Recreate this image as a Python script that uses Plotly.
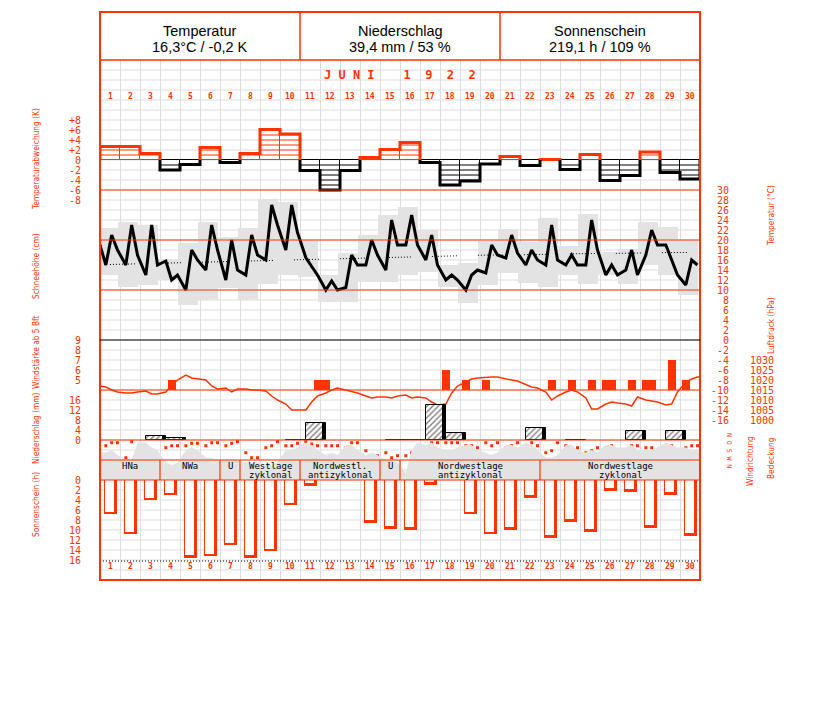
import plotly.graph_objects as go

RED = "#FF3300"
BLACK = "#000000"
GRAY = "#E3E3E3"
GRID = "#DDDDDD"
MONO = "DejaVu Sans Mono"
NARROW = "Liberation Sans Narrow, DejaVu Sans Condensed, Arial Narrow, sans-serif"
SANS = "Liberation Sans, Arial, sans-serif"

# ---------------- data ----------------
days = list(range(1, 31))
day_labels = [str(d) for d in days]

header_titles = ["Temperatur", "Niederschlag", "Sonnenschein"]
header_values = ["16,3°C / -0,2 K", "39,4 mm / 53 %", "219,1 h / 109 %"]
month_title = "J U N I    1  9  2  2"

# daily temperature deviation (K)
temp_dev = [2.7, 2.7, 1.3, -2.0, -0.9, 2.5, -0.5, 1.3, 6.1, 5.2,
            -2.1, -6.0, -2.1, 0.5, 2.1, 3.5, -0.5, -5.0, -4.2, -0.8,
            0.7, -1.1, 0.1, -1.9, 1.1, -4.1, -3.1, 1.6, -2.5, -3.8]

# temperature at 7h, 14h, 21h (°C)
temp_prev_evening = 20.7
temp_7h = [15, 15, 13, 15.8, 10, 14, 12, 13, 16, 18, 16.5, 10, 10.5, 15, 14,
           19, 16, 12, 10, 13.4, 16.4, 15, 15, 15, 15, 13, 14, 17, 19, 11]
temp_14h = [21, 23, 23, 12, 18, 23, 20, 21, 27, 27, 14.7, 11.8, 17, 20, 24,
            25, 21, 13, 13, 19, 21, 18, 23, 17, 24, 15, 18, 22, 16, 16]
temp_21h = [18, 17, 15, 13, 16, 18, 14, 17, 23, 21.5, 13, 10, 15, 17, 19,
            19, 15, 12, 14, 17, 17.4, 16, 16, 15, 18, 13, 13, 19, 13, 15]
# daily max / min (°C)
temp_max = [22.4, 23.7, 23, 16.2, 19.4, 23.6, 20.6, 22.4, 28.2, 27.6,
            20, 13, 17.4, 21, 25, 26.7, 22, 15, 15.4, 19.8,
            22.2, 19.6, 24.4, 18.8, 25.2, 17.6, 18.2, 23.6, 22.6, 20]
temp_min = [13, 10.7, 11, 12, 7, 8, 10.4, 8, 11.2, 13,
            12.6, 7.6, 7.6, 11.6, 11.6, 13, 13.6, 10.6, 7.4, 11,
            13.4, 11.4, 10.6, 13, 11.2, 13, 11.2, 15, 13, 9]
# long-term mean temperature (°C)
temp_normal = [15.1, 15.2, 15.4, 15.5, 15.6, 15.7, 15.8, 15.9, 16.0, 16.1,
               16.2, 16.3, 16.4, 16.5, 16.6, 16.7, 16.8, 16.8, 16.9, 17.0,
               17.0, 17.1, 17.2, 17.2, 17.3, 17.3, 17.4, 17.4, 17.5, 17.5]

# air pressure at 7h, 14h, 21h (hPa)
pressure_start = 1017
pressure_end = 1021.5
pressure_7h = [1016.5, 1013.5, 1014.5, 1014, 1022.5, 1020, 1016, 1015.5, 1014.5, 1008,
               1005, 1013.5, 1015, 1012, 1011.5, 1012.5, 1011, 1008, 1019, 1021.5,
               1020.5, 1017.5, 1014, 1014, 1011, 1008, 1008, 1010, 1007.5, 1019]
pressure_14h = [1015, 1013.5, 1013, 1017.5, 1021, 1017, 1014, 1015, 1012, 1005,
                1009, 1015, 1014, 1011, 1011, 1011, 1009, 1013.5, 1020.5, 1021.5,
                1020, 1016.5, 1010, 1015, 1005.5, 1009, 1007, 1009.5, 1008, 1020.5]
pressure_21h = [1014, 1014, 1013, 1020, 1020.5, 1015.5, 1015.5, 1015, 1010, 1005,
                1012, 1016, 1013.5, 1011.5, 1012, 1011.5, 1007.5, 1017, 1021, 1021.5,
                1019.5, 1016, 1012, 1014, 1005.5, 1008.5, 1011.5, 1009, 1014, 1021.5]

# wind force >= 5 Bft (observation day, hour, force)
wind_day = [4, 11, 12, 18, 19, 20, 23, 24, 25, 26, 26, 27, 28, 28, 29, 30]
wind_hour = [14, 21, 7, 7, 7, 7, 14, 14, 14, 7, 14, 14, 7, 14, 14, 7]
wind_bft = [5, 5, 5, 6, 5, 5, 5, 5, 5, 5, 5, 5, 5, 5, 7, 5]

# precipitation (mm), measured 7h to 7h
precip_mm = [0, 0, 1.8, 0.8, 0, 0, 0, 0, 0, 0.2, 6.9, 0, 0, 0, 0.2,
             0.2, 14.0, 2.9, 0, 0, 0, 4.9, 0, 0.2, 0, 0, 3.7, 0, 3.7, 0]

# wind direction (degrees) at 7h, 14h, 21h
wind_dir_7h = [103, 319, 319, 139, 103, 103, 103, 229, 139, 103,
               31, 103, 139, 193, 229, 283, 229, 49, 103, 49,
               139, 103, 229, 103, 229, 139, 193, 139, 193, 139]
wind_dir_14h = [49, 31, 283, 103, 59, 49, 59, 319, 103, 103,
                72, 103, 49, 283, 319, 229, 49, 49, 103, 103,
                103, 49, 193, 139, 193, 103, 103, 139, 103, 103]
wind_dir_21h = [49, 319, 283, 103, 59, 49, 31, 319, 31, 59,
                103, 103, 49, 283, 283, 319, 49, 49, 139, 49,
                49, 103, 49, 139, 139, 193, 103, 193, 193, 103]

# cloud cover (octas) at 7h, 14h, 21h
cloud_start = 5.5
cloud_end = 6
cloud_7h = [5.5, 4, 7.5, 3.5, 6, 4.5, 4, 3.5, 3, 6, 7.5, 5, 7, 5, 4,
            1.5, 7, 6, 7, 5.5, 7, 7.5, 4.5, 7, 5.5, 7, 6.5, 6, 7.5, 6.5]
cloud_14h = [6, 4, 6.5, 3, 6.5, 4.5, 4, 3.5, 3, 6, 7, 5.5, 7, 5.5, 4,
             6, 7.5, 6, 7, 5, 7, 7, 4.5, 7, 6, 7, 7, 6, 7, 6]
cloud_21h = [5, 7.5, 6, 3.5, 6, 4, 4, 3.5, 3.5, 6.5, 6, 5, 6, 5, 3.5,
             7.5, 6.5, 6.5, 6, 5.5, 6.5, 6, 5, 6, 5.5, 6.5, 6, 6.5, 6.5, 6]

# Großwetterlage
wl_line1 = ["HNa", "NWa", "U", "Westlage", "Nordwestl.", "U", "Nordwestlage", "Nordwestlage"]
wl_line2 = ["", "", "", "zyklonal", "antizyklonal", "", "antizyklonal", "zyklonal"]
wl_start = [1, 4, 7, 8, 11, 15, 16, 23]
wl_end = [3, 6, 7, 10, 14, 15, 22, 30]

# sunshine duration (h)
sun_h = [6.8, 10.8, 4.0, 3.0, 15.5, 15.2, 13.0, 15.5, 14.2, 5.0,
         1.1, 0, 0, 8.5, 9.7, 9.9, 0.9, 0, 6.8, 10.8,
         9.9, 3.5, 11.5, 8.3, 10.3, 2.1, 2.3, 9.5, 2.9, 11.1]
sun_possible = 16.2

# axis tick values
dev_ticks = [-8, -6, -4, -2, 0, 2, 4, 6, 8]
snow_ticks = [0, 2, 4, 6, 8, 10]
temp_ticks = list(range(30, -17, -2))
pres_ticks = [1030, 1025, 1020, 1015, 1010, 1005, 1000]
wind_ticks = [5, 6, 7, 8, 9]
precip_ticks = [0, 4, 8, 12, 16]
sun_ticks = list(range(0, 17, 2))

# ---------------- geometry helpers ----------------
OBS_HOURS = [7, 14, 21]


def obs_x(day, hour):
    return day - 1 + hour / 24.0


obs_t = [obs_x(d, h) for d in days for h in OBS_HOURS]


def trio(a, b, c):
    return [v for t in zip(a, b, c) for v in t]


PX_TOP, PX_BOT = 60, 580
PLOT_TOP, PLOT_H = 12, 568
DOMAIN = [0, (PX_BOT - PX_TOP) / PLOT_H]
GRID_ROWS = (PX_BOT - PX_TOP) // 10


def rng(a, b):
    # pixel y = a - b * value
    return [(a - PX_BOT) / b, (a - PX_TOP) / b]


def py(ypx):
    return (PX_BOT - ypx) / PLOT_H


def px(xpx):
    return (xpx - 100) / 600.0


fig = go.Figure()

# cloud cover (gray area)
fig.add_trace(go.Scatter(
    x=[0] + obs_t + [30], y=[cloud_start] + trio(cloud_7h, cloud_14h, cloud_21h) + [cloud_end],
    yaxis="y8", mode="lines", line=dict(width=0, color=GRAY),
    fill="tozeroy", fillcolor=GRAY, hoverinfo="skip"))

# temperature range boxes (21h to 21h)
fig.add_trace(go.Bar(
    x=[d - 0.625 for d in days], y=[mx - mn for mx, mn in zip(temp_max, temp_min)],
    base=temp_min, width=1.0, yaxis="y3",
    marker=dict(color=GRAY, line=dict(width=0)), hoverinfo="skip"))

# temperature deviation bars
fig.add_trace(go.Bar(
    x=[d - 0.5 for d in days], y=temp_dev, width=1.0, yaxis="y2",
    marker=dict(color="white",
                line=dict(color=[RED if v > 0 else BLACK for v in temp_dev], width=1)),
    hoverinfo="skip"))

# hatch lines inside deviation bars (every 1 K)
for sign, col in [(1, RED), (-1, BLACK)]:
    hx, hy = [], []
    for d, v in zip(days, temp_dev):
        if v * sign <= 0:
            continue
        k = 1
        while k < abs(v):
            hx += [d - 1, d, None]
            hy += [sign * k, sign * k, None]
            k += 1
    fig.add_trace(go.Scatter(x=hx, y=hy, yaxis="y2", mode="lines",
                             line=dict(color=col, width=1), hoverinfo="skip"))

# thick step outline of deviation, per run of same sign
for sign, col in [(1, RED), (-1, BLACK)]:
    sx, sy = [], []
    i = 0
    n = len(temp_dev)
    while i < n:
        if (temp_dev[i] > 0) == (sign > 0):
            j = i
            sx += [i, i]
            sy += [0, temp_dev[i]]
            while j < n and (temp_dev[j] > 0) == (sign > 0):
                sx += [j, j + 1]
                sy += [temp_dev[j], temp_dev[j]]
                j += 1
            sx += [j, None]
            sy += [0, None]
            i = j
        else:
            i += 1
    fig.add_trace(go.Scatter(x=sx, y=sy, yaxis="y2", mode="lines",
                             line=dict(color=col, width=3), hoverinfo="skip"))

# long-term mean (dotted)
dash_pat = ",".join(["1px,2px"] * 8 + ["1px,21px"])
fig.add_trace(go.Scatter(
    x=[d - 0.5 for d in days], y=temp_normal, yaxis="y3", mode="lines",
    line=dict(color=BLACK, width=1, dash=dash_pat), hoverinfo="skip"))

# temperature line
fig.add_trace(go.Scatter(
    x=[obs_x(0, 21)] + obs_t, y=[temp_prev_evening] + trio(temp_7h, temp_14h, temp_21h),
    yaxis="y3", mode="lines", line=dict(color=BLACK, width=3), hoverinfo="skip"))

# wind force bars
fig.add_trace(go.Bar(
    x=[obs_x(d, h) for d, h in zip(wind_day, wind_hour)], y=[b - 4 for b in wind_bft],
    base=4, width=0.4, yaxis="y5", marker=dict(color=RED, line=dict(width=0)),
    hoverinfo="skip"))

# pressure line
fig.add_trace(go.Scatter(
    x=[0] + obs_t + [30],
    y=[pressure_start] + trio(pressure_7h, pressure_14h, pressure_21h) + [pressure_end],
    yaxis="y4", mode="lines", line=dict(color=RED, width=1.5), hoverinfo="skip"))

# precipitation bars (shadow + hatched)
p_days = [d for d, p in zip(days, precip_mm) if p > 0]
p_vals = [p for p in precip_mm if p > 0]
p_start = [d - 1 + 7 / 24.0 for d in p_days]
fig.add_trace(go.Bar(
    x=[s + 0.56 for s in p_start], y=p_vals, width=0.88, yaxis="y6",
    marker=dict(color=BLACK, line=dict(color=BLACK, width=1)), hoverinfo="skip"))
fig.add_trace(go.Bar(
    x=[s + 0.44 for s in p_start], y=p_vals, width=0.88, yaxis="y6",
    marker=dict(color="white",
                pattern=dict(shape="/", fgcolor=BLACK, bgcolor="white", size=4, solidity=0.35),
                line=dict(color=BLACK, width=1)), hoverinfo="skip"))

# wind direction dots
fig.add_trace(go.Scatter(
    x=obs_t, y=trio(wind_dir_7h, wind_dir_14h, wind_dir_21h), yaxis="y7", mode="markers",
    marker=dict(symbol="square", size=3, color=RED, line=dict(width=0)), hoverinfo="skip"))

# sunshine bars (outer red, inner white)
s_days = [d for d, h in zip(days, sun_h) if h > 0]
s_vals = [h for h in sun_h if h > 0]
fig.add_trace(go.Bar(
    x=[d - 1 + 0.525 for d in s_days], y=s_vals, width=0.65, yaxis="y9",
    marker=dict(color=RED, line=dict(width=0)), hoverinfo="skip"))
fig.add_trace(go.Bar(
    x=[d - 1 + 0.485 for d in s_days], y=[max(h - 0.5, 0) for h in s_vals], width=0.47,
    yaxis="y9", marker=dict(color="white", line=dict(width=0)), hoverinfo="skip"))

# possible sunshine (dotted)
fig.add_trace(go.Scatter(
    x=[0, 30], y=[sun_possible, sun_possible], yaxis="y9", mode="lines",
    line=dict(color=BLACK, width=1, dash="1px,2px"), hoverinfo="skip"))

# ---------------- axes ----------------
tickfont = dict(family=MONO, size=10, color=RED)


def left_axis(r, vals, text):
    return dict(overlaying="y", anchor="x", side="left", domain=DOMAIN, range=r,
                showgrid=False, zeroline=False, showline=False, ticks="outside",
                ticklen=16, tickcolor="rgba(0,0,0,0)", tickvals=vals, ticktext=text,
                tickfont=tickfont, fixedrange=True, automargin=False)


def hidden_axis(r):
    return dict(overlaying="y", anchor="x", domain=DOMAIN, range=r, showgrid=False,
                zeroline=False, showline=False, showticklabels=False, ticks="",
                fixedrange=True)


# the page body adds an 8 px offset; compensate so the plot area lands at x 100..700, y 12..580
OFF = 8
layout = dict(
    width=827 - 2 * OFF, height=702 - 2 * OFF,
    margin=dict(l=100 - OFF, r=827 - 2 * OFF - (100 - OFF) - 600, t=12 - OFF,
                b=702 - 2 * OFF - (12 - OFF) - PLOT_H, pad=0),
    paper_bgcolor="white", plot_bgcolor="rgba(0,0,0,0)",
    showlegend=False, barmode="overlay", bargap=0,
    xaxis=dict(range=[0, 30], domain=[0, 1], anchor="y", showgrid=True, gridcolor=GRID,
               gridwidth=1, dtick=1, tick0=0, showticklabels=False, ticks="",
               zeroline=False, showline=False, fixedrange=True),
    yaxis=dict(domain=DOMAIN, range=[0, GRID_ROWS], showgrid=False, showticklabels=False,
               ticks="", zeroline=False, showline=False, fixedrange=True),
    yaxis2=left_axis(rng(160, 5), dev_ticks,
                     [("+" if v > 0 else "") + str(v) for v in dev_ticks]),
    yaxis3=hidden_axis(rng(340, 5)),
    yaxis4=hidden_axis(rng(2420, 2)),
    yaxis5=left_axis(rng(430, 10), wind_ticks, [str(v) for v in wind_ticks]),
    yaxis6=left_axis(rng(440, 2.5), precip_ticks, [str(v) for v in precip_ticks]),
    yaxis7=hidden_axis(rng(440, -1 / 18.0)),
    yaxis8=hidden_axis(rng(480, 5)),
    yaxis9=left_axis(rng(480, -5), sun_ticks, [str(v) for v in sun_ticks]),
    yaxis10=left_axis(rng(290, 5), snow_ticks, [str(v) for v in snow_ticks]),
)
fig.update_layout(**layout)

# ---------------- shapes ----------------
shapes = []
# horizontal background grid (every 10 px)
for k in range(GRID_ROWS + 1):
    shapes.append(dict(type="line", xref="paper", yref="y", x0=0, x1=1, y0=k, y1=k,
                       line=dict(color=GRID, width=1), layer="below"))
shapes.append(dict(type="rect", xref="paper", yref="paper", x0=0, x1=1, y0=0, y1=1,
                   line=dict(color=RED, width=2), layer="above"))
shapes.append(dict(type="line", xref="paper", yref="paper", x0=0, x1=1,
                   y0=py(60), y1=py(60), line=dict(color=RED, width=1.5)))
for dv in [10, 20]:
    shapes.append(dict(type="line", xref="x", yref="paper", x0=dv, x1=dv,
                       y0=py(60), y1=1, line=dict(color=RED, width=1.5)))
for yref, val, col in [("y3", 30, RED), ("y3", 20, RED), ("y3", 10, RED),
                       ("y5", 9, BLACK), ("y4", 1015, RED), ("y6", 0, RED),
                       ("y8", 4, RED), ("y8", 0, RED)]:
    shapes.append(dict(type="line", xref="paper", yref=yref, x0=0, x1=1, y0=val, y1=val,
                       line=dict(color=col, width=1.2), layer="above"))
for s in wl_start[1:]:
    shapes.append(dict(type="line", xref="x", yref="y8", x0=s - 1, x1=s - 1, y0=0, y1=4,
                       line=dict(color=RED, width=1.2)))
fig.update_layout(shapes=shapes)

# ---------------- annotations ----------------
ann = []


def note(text, x, y, xref="paper", yref="paper", font=None, **kw):
    d = dict(x=x, y=y, xref=xref, yref=yref, text=text, showarrow=False,
             xanchor=kw.pop("xanchor", "center"), yanchor=kw.pop("yanchor", "middle"),
             font=font)
    d.update(kw)
    ann.append(d)


hfont = dict(family=SANS, size=14.5, color=BLACK)
for i, (t, v) in enumerate(zip(header_titles, header_values)):
    cx = 10 * i + 5
    note(t, cx, py(31), xref="x", font=hfont)
    note(v, cx, py(47), xref="x", font=hfont)
note(month_title.replace(" ", "\u00a0"), 15, py(75), xref="x",
     font=dict(family=MONO, size=12, color=RED, weight="bold"))
for d, lab in zip(days, day_labels):
    for ypix in (96, 566):
        note(lab, d - 0.5, py(ypix), xref="x",
             font=dict(family=MONO, size=8, color=RED, weight="bold"))
for v in temp_ticks:
    note(str(v), px(731), v, yref="y3", font=tickfont, xanchor="right")
for v in pres_ticks:
    note(str(v), px(776), v, yref="y4", font=tickfont, xanchor="right")
titles = [
    ("Temperaturabweichung (K)", 36, 159),
    ("Schneehöhe (cm)", 36, 266),
    ("Windstärke ab 5 Bft", 36, 352),
    ("Niederschlag (mm)", 36, 428),
    ("Sonnenschein (h)", 36, 505),
    ("Temperatur (°C)", 771, 216),
    ("Luftdruck (hPa)", 771, 326),
    ("Windrichtung", 750, 461),
    ("Bedeckung", 771, 458),
]
for txt, xx, yy in titles:
    note(txt, px(xx), py(yy), textangle=-90,
         font=dict(family=NARROW, size=8.3, color=RED))
note("N\u00a0O\u00a0S\u00a0W\u00a0N", px(729), py(450), textangle=90,
     font=dict(family=MONO, size=6.5, color=RED))
for l1, l2, s, e in zip(wl_line1, wl_line2, wl_start, wl_end):
    cx = (s - 1 + e) / 2.0
    note(l1, cx, py(466), xref="x", font=dict(family=MONO, size=9, color=BLACK))
    if l2:
        note(l2, cx, py(474.5), xref="x", font=dict(family=MONO, size=9, color=BLACK))
fig.update_layout(annotations=ann)

fig.write_html("out.html")
